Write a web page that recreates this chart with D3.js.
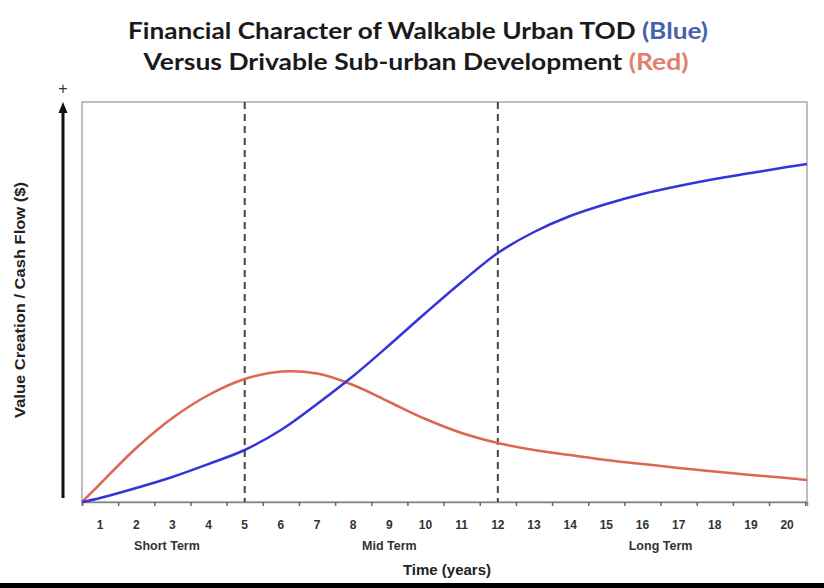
<!DOCTYPE html>
<html>
<head>
<meta charset="utf-8">
<script src="https://cdn.jsdelivr.net/npm/d3@7"></script>
<style>
  body { margin: 0; background: #fff; }
  svg { display: block; }
</style>
</head>
<body>
<svg id="chart" width="824" height="588"></svg>
<script>
// years (x) sampled along both curves, starting at the axis origin
const years = [0.5, 1, 2, 3, 4, 5, 6, 7, 8, 9, 10, 11, 12, 13, 14, 15, 16, 17, 18, 19, 20, 20.55];
const walkableTOD = [0, 1, 3.5, 6.25, 9.5, 13, 18, 24.5, 31.5, 39.25, 47.25, 55, 62.25, 67.5, 71.5, 74.5, 77, 79, 80.75, 82.25, 83.75, 84.5];
const drivableSuburban = [0, 4.5, 13.5, 21, 26.75, 30.75, 32.6, 32.1, 29.25, 25, 20.75, 17.25, 14.75, 13, 11.75, 10.5, 9.5, 8.5, 7.6, 6.75, 6, 5.5];
const tickYears = d3.range(1, 21);
const phaseBreaks = [5, 12];
const phaseLabels = [
  { label: 'Short Term', at: 2.85 },
  { label: 'Mid Term', at: 9 },
  { label: 'Long Term', at: 16.5 }
];

const svg = d3.select('#chart');
const margin = { top: 102, right: 17, bottom: 86, left: 82 };
const width = +svg.attr('width');
const height = +svg.attr('height');

const x = d3.scaleLinear()
  .domain([0.5, 20.55])
  .range([margin.left, width - margin.right]);

const y = d3.scaleLinear()
  .domain([0, 100])
  .range([height - margin.bottom, margin.top]);

// title
const title = svg.append('g')
  .attr('font-family', 'Lato, "Open Sans", sans-serif')
  .attr('font-weight', 700)
  .attr('font-size', 23)
  .attr('text-anchor', 'middle')
  .attr('fill', '#1a1a1a');

const t1 = title.append('text')
  .attr('x', 418).attr('y', 39)
  .attr('textLength', 580).attr('lengthAdjust', 'spacingAndGlyphs');
t1.append('tspan').text('Financial Character of Walkable Urban TOD ');
t1.append('tspan').attr('fill', '#4662ad').text('(Blue)');

const t2 = title.append('text')
  .attr('x', 416).attr('y', 70)
  .attr('textLength', 545).attr('lengthAdjust', 'spacingAndGlyphs');
t2.append('tspan').text('Versus Drivable Sub-urban Development ');
t2.append('tspan').attr('fill', '#e0806c').text('(Red)');

// plot frame
svg.append('rect')
  .attr('x', x.range()[0])
  .attr('y', y.range()[1])
  .attr('width', x.range()[1] - x.range()[0])
  .attr('height', y.range()[0] - y.range()[1])
  .attr('fill', 'none')
  .attr('stroke', '#aaa')
  .attr('stroke-width', 1.5);

// x axis: ticks between years, labels on the years
const xAxis = svg.append('g')
  .attr('transform', `translate(0,${y(0)})`);

xAxis.call(d3.axisBottom(x)
  .tickValues(d3.range(0.5, 21, 1))
  .tickSize(4)
  .tickFormat(''))
  .call(g => g.select('.domain').attr('stroke', '#888').attr('stroke-width', 1.5))
  .call(g => g.selectAll('.tick line').attr('stroke', '#666').attr('stroke-width', 1.5));

svg.append('g')
  .attr('font-family', '"Liberation Sans", Arial, sans-serif')
  .attr('font-weight', 700)
  .attr('font-size', 12)
  .attr('fill', '#333')
  .attr('text-anchor', 'middle')
  .selectAll('text')
  .data(tickYears)
  .join('text')
  .attr('x', d => x(d))
  .attr('y', 529)
  .text(d => d);

svg.append('g')
  .attr('font-family', '"Liberation Sans", Arial, sans-serif')
  .attr('font-weight', 700)
  .attr('font-size', 12.5)
  .attr('fill', '#333')
  .attr('text-anchor', 'middle')
  .selectAll('text')
  .data(phaseLabels)
  .join('text')
  .attr('x', d => x(d.at))
  .attr('y', 550)
  .text(d => d.label);

svg.append('text')
  .attr('x', 447)
  .attr('y', 575)
  .attr('text-anchor', 'middle')
  .attr('font-family', '"Liberation Sans", Arial, sans-serif')
  .attr('font-weight', 700)
  .attr('font-size', 15)
  .attr('fill', '#222')
  .text('Time (years)');

// y axis arrow and label
svg.append('line')
  .attr('x1', 63).attr('x2', 63)
  .attr('y1', y(0) - 4).attr('y2', y(100) + 8)
  .attr('stroke', '#111')
  .attr('stroke-width', 3);

svg.append('path')
  .attr('d', `M63,${y(100)} L58.5,${y(100) + 11} L67.5,${y(100) + 11} Z`)
  .attr('fill', '#111');

svg.append('text')
  .attr('x', 63)
  .attr('y', 94)
  .attr('text-anchor', 'middle')
  .attr('font-family', '"Liberation Sans", Arial, sans-serif')
  .attr('font-size', 16)
  .attr('fill', '#333')
  .text('+');

svg.append('text')
  .attr('transform', `translate(25,${(y(0) + y(100)) / 2 - 2}) rotate(-90)`)
  .attr('text-anchor', 'middle')
  .attr('font-family', '"Liberation Sans", Arial, sans-serif')
  .attr('font-weight', 700)
  .attr('font-size', 14.5)
  .attr('fill', '#222')
  .attr('textLength', 236)
  .attr('lengthAdjust', 'spacingAndGlyphs')
  .text('Value Creation / Cash Flow ($)');

// phase dividers
svg.append('g')
  .selectAll('line')
  .data(phaseBreaks)
  .join('line')
  .attr('x1', d => x(d)).attr('x2', d => x(d))
  .attr('y1', y(100)).attr('y2', y(0))
  .attr('stroke', '#444')
  .attr('stroke-width', 2)
  .attr('stroke-dasharray', '7,5');

// curves
const line = d3.line()
  .x(d => x(d[0]))
  .y(d => y(d[1]))
  .curve(d3.curveCatmullRom.alpha(0.5));

svg.append('path')
  .datum(d3.zip(years, drivableSuburban))
  .attr('fill', 'none')
  .attr('stroke', '#dc6650')
  .attr('stroke-width', 2.5)
  .attr('d', line);

svg.append('path')
  .datum(d3.zip(years, walkableTOD))
  .attr('fill', 'none')
  .attr('stroke', '#3434dc')
  .attr('stroke-width', 2.5)
  .attr('d', line);

// black strip along the bottom edge
svg.append('rect')
  .attr('x', 0).attr('y', 583)
  .attr('width', width).attr('height', 5)
  .attr('fill', '#000');
</script>
</body>
</html>
